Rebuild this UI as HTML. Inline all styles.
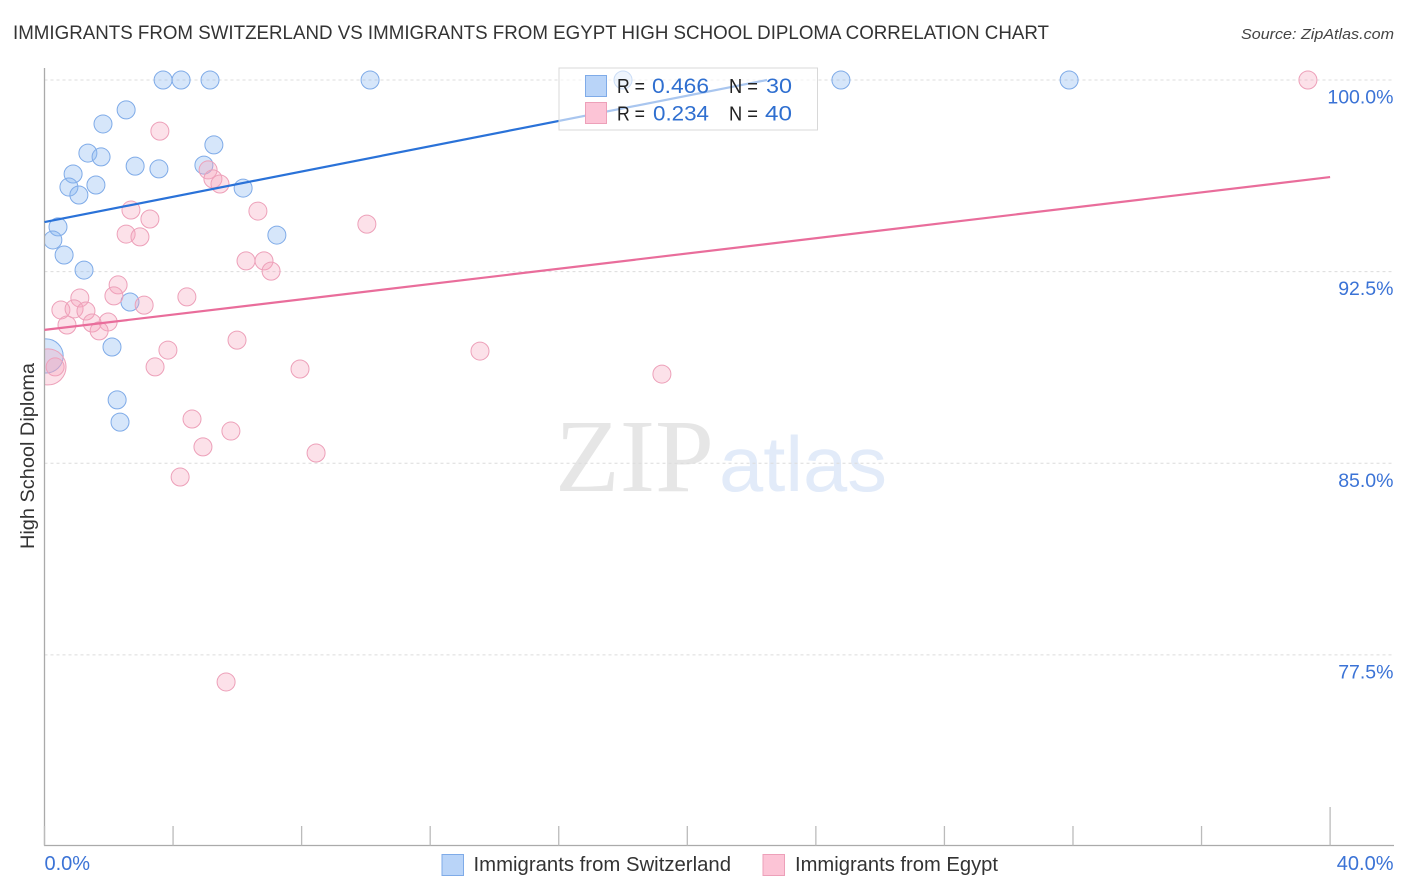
<!DOCTYPE html>
<html lang="en">
<head>
<meta charset="utf-8">
<title>Immigrants from Switzerland vs Immigrants from Egypt High School Diploma Correlation Chart</title>
<style>
html,body{margin:0;padding:0;background:#fff;width:1406px;height:892px;overflow:hidden}
svg{display:block}
text{font-family:"Liberation Sans",sans-serif}
</style>
</head>
<body>
<svg id="chart" xmlns="http://www.w3.org/2000/svg" width="1406" height="892" viewBox="0 0 1406 892">
  <defs>
    <clipPath id="plot-clip"><rect x="44.5" y="60" width="1350" height="786"></rect></clipPath>
  </defs>
  <text x="13" y="39" font-size="19" fill="#333" textLength="1036" lengthAdjust="spacingAndGlyphs">IMMIGRANTS FROM SWITZERLAND VS IMMIGRANTS FROM EGYPT HIGH SCHOOL DIPLOMA CORRELATION CHART</text>
  <text x="1241" y="39" font-size="15" font-style="italic" fill="#444" textLength="153" lengthAdjust="spacingAndGlyphs">Source: ZipAtlas.com</text>

  <g id="watermark">
    <text x="555" y="491" font-size="104" fill="#e6e6e6" textLength="159" lengthAdjust="spacingAndGlyphs" style="font-family:'Liberation Serif',serif">ZIP</text>
    <text x="719" y="491" font-size="78" fill="#e2ebf9" textLength="168" lengthAdjust="spacingAndGlyphs">atlas</text>
  </g>

  <g id="grid"></g>
  <g id="points-blue" clip-path="url(#plot-clip)"></g>
  <g id="points-pink" clip-path="url(#plot-clip)"></g>
  <g id="axes"></g>
  <g id="trends"></g>

  <g id="stat-legend">
    <rect x="559" y="68" width="258.5" height="62" fill="#fff" fill-opacity="0.6" stroke="#d8d8d8" stroke-width="1"></rect>
    <rect x="585.5" y="75.5" width="21" height="21" fill="#b9d4f8" stroke="#7fabe8" stroke-width="1"></rect>
    <rect x="585.5" y="102.5" width="21" height="21" fill="#fcc4d6" stroke="#eda0b9" stroke-width="1"></rect>
    <text x="617" y="93" font-size="20" fill="#222" textLength="28" lengthAdjust="spacingAndGlyphs">R =</text>
    <text x="652" y="93" font-size="21" fill="#2f6fd0" textLength="57" lengthAdjust="spacingAndGlyphs">0.466</text>
    <text x="729" y="93" font-size="20" fill="#222" textLength="29" lengthAdjust="spacingAndGlyphs">N =</text>
    <text x="766" y="93" font-size="21" fill="#2f6fd0" textLength="26" lengthAdjust="spacingAndGlyphs">30</text>
    <text x="617" y="120.500" font-size="20" fill="#222" textLength="28" lengthAdjust="spacingAndGlyphs">R =</text>
    <text x="653" y="120.500" font-size="21" fill="#2f6fd0" textLength="56" lengthAdjust="spacingAndGlyphs">0.234</text>
    <text x="729" y="120.500" font-size="20" fill="#222" textLength="29" lengthAdjust="spacingAndGlyphs">N =</text>
    <text x="765" y="120.500" font-size="21" fill="#2f6fd0" textLength="27" lengthAdjust="spacingAndGlyphs">40</text>
  </g>

  <text transform="translate(34,549) rotate(-90)" font-size="19" fill="#333" textLength="186" lengthAdjust="spacingAndGlyphs">High School Diploma</text>

  <g id="bottom-legend">
    <g>
      <rect x="442" y="854.500" width="21.500" height="21" fill="#b9d4f8" stroke="#7fabe8" stroke-width="1"></rect>
      <text x="473.500" y="871" font-size="20" fill="#333" textLength="257.500" lengthAdjust="spacingAndGlyphs">Immigrants from Switzerland</text>
    </g>
    <g>
      <rect x="763" y="854.500" width="21.500" height="21" fill="#fcc4d6" stroke="#eda0b9" stroke-width="1"></rect>
      <text x="795" y="871" font-size="20" fill="#333" textLength="203" lengthAdjust="spacingAndGlyphs">Immigrants from Egypt</text>
    </g>
  </g>
</svg>
<script>
const blueX = [3.69,4.25,5.15,10.13,18.0,24.78,31.88,2.54,1.82,5.27,1.35,1.76,2.82,3.56,4.96,0.89,1.60,0.76,1.07,6.18,0.42,7.23,0.26,0.61,1.23,2.66,2.10,2.26,2.35,0.05];
const blueY = [100,100,100,100,100,100,100,98.83,98.28,97.46,97.14,96.99,96.63,96.52,96.67,96.32,95.89,95.81,95.5,95.77,94.25,93.93,93.74,93.15,92.56,91.31,89.55,87.48,86.61,89.2];
const blueWeight = [1,1,1,1,1,1,1,1,1,1,1,1,1,1,1,1,1,1,1,1,1,1,1,1,1,1,1,1,1,3.6];
const pinkX = [39.31,3.59,5.09,5.24,5.46,2.69,6.64,3.28,10.03,2.54,2.97,6.27,6.83,7.05,2.29,2.16,4.43,1.10,3.10,0.51,0.92,1.29,1.98,1.48,0.70,1.70,5.99,3.84,13.55,3.44,7.95,19.21,0.33,0.11,4.59,5.80,4.93,8.45,4.22,5.65];
const pinkY = [100,98.0,96.48,96.13,95.93,94.91,94.87,94.56,94.36,93.97,93.86,92.92,92.92,92.52,91.98,91.55,91.51,91.47,91.19,91.0,91.04,90.96,90.53,90.49,90.41,90.18,89.82,89.43,89.39,88.77,88.69,88.49,88.77,88.77,86.73,86.26,85.64,85.4,84.46,76.44];
const pinkWeight = [1,1,1,1,1,1,1,1,1,1,1,1,1,1,1,1,1,1,1,1,1,1,1,1,1,1,1,1,1,1,1,1,1,4,1,1,1,1,1,1];
const blueTrendX = [0,22.48];
const blueTrendY = [94.44,100];
const pinkTrendX = [0,40];
const pinkTrendY = [90.22,96.2];
const yTicks = [100,92.5,85,77.5];
const yTickLabels = ["100.0%","92.5%","85.0%","77.5%"];
const xTicks = [0,4,8,12,16,20,24,28,32,36,40];
const xEndTicks = [0,40];
const xEndLabels = ["0.0%","40.0%"];

const NS = "http://www.w3.org/2000/svg";
function xScale(v){ return 44.5 + v * 32.14; }
function yScale(v){ return 80 + (100 - v) * 25.55; }
function radius(w){ return 9 * Math.sqrt(w); }
function make(tag, parentId, attrs){
  const el = document.createElementNS(NS, tag);
  for (const k in attrs) el.setAttribute(k, attrs[k]);
  document.getElementById(parentId).appendChild(el);
  return el;
}

yTicks.forEach(function(v, i){
  const g = make("line", "grid", {x1:44.5, x2:1394, y1:yScale(v), y2:yScale(v), stroke:"#dcdcdc", "stroke-width":1, "stroke-dasharray":"3 3"});
  
  
  const t = make("text", "axes", {x:1393.5, y:yScale(v) + 23.5, "text-anchor":"end", "font-size":19.5, fill:"#3b73d6"});
  
  
  t.textContent = yTickLabels[i];
});

const yAxis = make("line", "axes", {x1:44.5, x2:44.5, y1:68, y2:845.5, stroke:"#aaa", "stroke-width":1.300});


const xAxis = make("line", "axes", {x1:44, x2:1394, y1:845.5, y2:845.5, stroke:"#aaa", "stroke-width":1.300});



xTicks.forEach(function(v){
  const top = v === 40 ? 807 : 826;
  const tk = make("line", "axes", {x1:xScale(v), x2:xScale(v), y1:top, y2:845.5, stroke:"#bbb", "stroke-width":1.300});
  
  
});

xEndTicks.forEach(function(v, i){
  const t = make("text", "axes", {x: i === 0 ? xScale(v) : 1393.5, y:870, "text-anchor": i === 0 ? "start" : "end", "font-size":20, fill:"#3b73d6"});
  
  
  t.textContent = xEndLabels[i];
});

blueX.forEach(function(v, i){
  const c = make("circle", "points-blue", {cx:xScale(v), cy:yScale(blueY[i]), r:radius(blueWeight[i]), fill:"#8ab6f2", "fill-opacity":0.35, stroke:"#7fabe8", "stroke-width":1});
  
  
});
pinkX.forEach(function(v, i){
  const c = make("circle", "points-pink", {cx:xScale(v), cy:yScale(pinkY[i]), r:radius(pinkWeight[i]), fill:"#f7a3bd", "fill-opacity":0.33, stroke:"#eda0b9", "stroke-width":1});
  
  
});

const blueLine = make("line", "trends", {x1:xScale(blueTrendX[0]), y1:yScale(blueTrendY[0]), x2:xScale(blueTrendX[1]), y2:yScale(blueTrendY[1]), stroke:"#2a72d8", "stroke-width":2.2});


const pinkLine = make("line", "trends", {x1:xScale(pinkTrendX[0]), y1:yScale(pinkTrendY[0]), x2:xScale(pinkTrendX[1]), y2:yScale(pinkTrendY[1]), stroke:"#e96d9b", "stroke-width":2.2});


</script>
</body>
</html>
